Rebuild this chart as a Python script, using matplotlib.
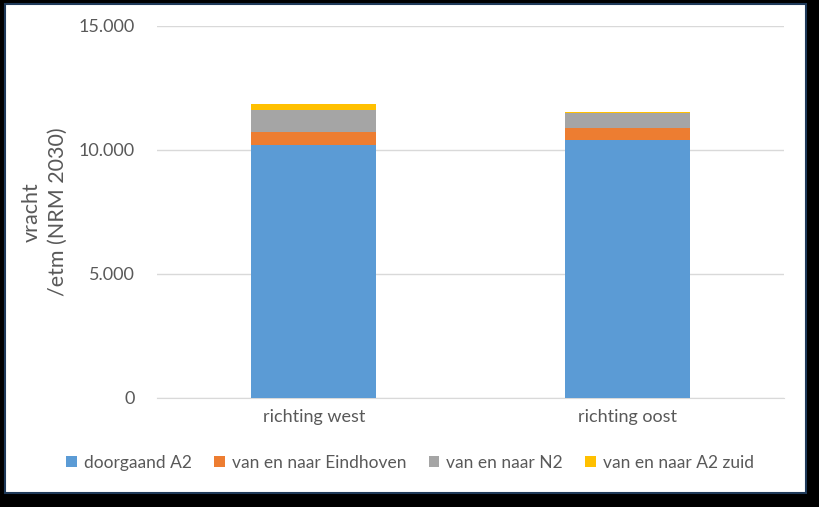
import matplotlib.pyplot as plt
import matplotlib.patches as patches
import numpy as np
from matplotlib.ticker import FuncFormatter

categories = ['richting west', 'richting oost']
series_names = ['doorgaand A2', 'van en naar Eindhoven', 'van en naar N2', 'van en naar A2 zuid']
doorgaand = [10200, 10400]
eindhoven = [540, 500]
n2 = [870, 580]
a2_zuid = [240, 60]
colors = ['#5b9bd5', '#ed7d31', '#a5a5a5', '#ffc000']

plt.rcParams['font.family'] = ['Lato', 'DejaVu Sans']
txt = '#595959'

fig = plt.figure(figsize=(8.2, 5.07), dpi=100)
fig.patch.set_facecolor('black')
W, H = 820, 507
# white chart area with thin dark-blue edge on a black background
frame = patches.Rectangle((5 / W, 1 - 493 / H), 801 / W, 489 / H, transform=fig.transFigure,
                          facecolor='white', edgecolor='#1f3a5a', linewidth=1.5, zorder=-1)
fig.patches.append(frame)

ax = fig.add_axes([157 / W, 1 - 398 / H, 627 / W, 372 / H])
ax.set_facecolor('none')

x = np.arange(len(categories))
bottom = np.zeros(len(categories))
for vals, name, c in zip([doorgaand, eindhoven, n2, a2_zuid], series_names, colors):
    ax.bar(x, vals, width=0.4, bottom=bottom, color=c, label=name, zorder=3)
    bottom += np.array(vals)

ax.set_xlim(-0.5, 1.5)
ax.set_ylim(0, 15000)
ax.set_yticks([0, 5000, 10000, 15000])
ax.yaxis.set_major_formatter(FuncFormatter(lambda v, p: f'{int(v):,}'.replace(',', '.')))
ax.set_xticks(x)
ax.set_xticklabels(categories)
ax.grid(axis='y', color='#d9d9d9', linewidth=1, zorder=0)
for s in ['top', 'right', 'left']:
    ax.spines[s].set_visible(False)
ax.spines['bottom'].set_color('#d9d9d9')
ax.tick_params(axis='both', length=0, colors=txt, labelsize=13)
ax.tick_params(axis='y', pad=16)
ax.tick_params(axis='x', pad=8)

ax.set_ylabel('vracht\n/etm (NRM 2030)', fontsize=15.5, color=txt, labelpad=8, linespacing=1.35)

leg = fig.legend(loc='center', bbox_to_anchor=(0.5, 1 - 463 / H), ncol=4, frameon=False,
                 fontsize=12.5, handlelength=0.6, handleheight=0.6, handletextpad=0.4,
                 columnspacing=1.3, labelcolor=txt)

fig.savefig('out.png', dpi=100, facecolor=fig.get_facecolor())
